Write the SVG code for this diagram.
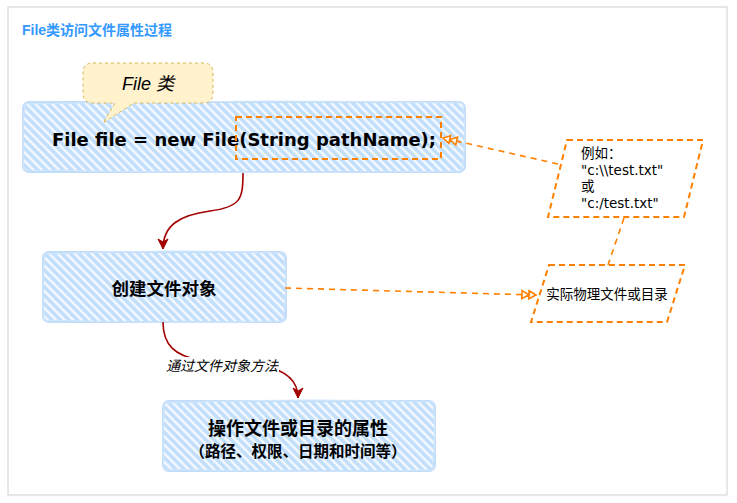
<svg xmlns="http://www.w3.org/2000/svg" width="737" height="503" viewBox="0 0 737 503">
<defs>
<style>
.hn{fill:url(#hatch);stroke:#c2ddf9;stroke-width:2}
.hn2{fill:none;stroke:#d0e6fc;stroke-width:1.2}
.t{font-family:"DejaVu Sans","Noto Sans CJK SC",sans-serif;fill:#000}
.cj{font-family:"DejaVu Sans","Noto Sans CJK SC",sans-serif;font-weight:bold;fill:#000}
.or{fill:none;stroke:#ff8000;stroke-width:2;stroke-dasharray:6 4}
.ol{fill:none;stroke:#ff8000;stroke-width:1.6;stroke-dasharray:6 5}
.rd{fill:none;stroke:#a30000;stroke-width:1.6}
</style>
<pattern id="hatch" patternUnits="userSpaceOnUse" width="6" height="6" patternTransform="rotate(-45)">
<rect width="6" height="6" fill="#ffffff"/>
<line x1="2.5" y1="-1" x2="2.5" y2="7" stroke="#c1defb" stroke-width="4"/>
</pattern>
<marker id="dbl" markerUnits="userSpaceOnUse" markerWidth="20" markerHeight="12" refX="15" refY="5" orient="auto" overflow="visible">
<path d="M1,1 L8,5 L1,9 Z M8,1 L15,5 L8,9 Z" fill="#ffffff" stroke="#ff8000" stroke-width="1.6" stroke-linejoin="miter"/>
</marker>
<marker id="cls" markerUnits="userSpaceOnUse" markerWidth="14" markerHeight="12" refX="10" refY="5" orient="auto" overflow="visible">
<path d="M0,0 L10,5 L0,10 L3,5 Z" fill="#a30000" stroke="#a30000" stroke-width="1"/>
</marker>
</defs>

<rect x="8" y="7" width="719" height="488" fill="#ffffff" stroke="#d0d0d0" stroke-width="1"/>
<text x="22" y="35" font-family="'Liberation Sans','Noto Sans CJK SC',sans-serif" font-size="14" font-weight="bold" fill="#3399ff">File类访问文件属性过程</text>

<g id="node-file">
<rect class="hn" x="23" y="102" width="442" height="70" rx="6"/>
<path class="hn2" d="M25,104 Q240,99 463,103 Q467,137 462,171 Q240,174 24,170 Q21,136 25,104 Z"/>
<text class="t" x="244" y="146" text-anchor="middle" font-size="18" font-weight="bold">File file = new File(String pathName);</text>
</g>

<g id="node-param-box">
<rect class="or" x="236" y="117" width="205" height="42"/>
</g>

<g id="callout-file">
<path d="M93,63 H203 Q213,63 213,73 V93 Q213,103 203,103 H134 L103,123 L115,103 H93 Q83,103 83,93 V73 Q83,63 93,63 Z" fill="#fff2cc" stroke="#d6b656" stroke-width="1" stroke-dasharray="3 3"/>
<text x="148" y="90" text-anchor="middle" font-family="'Liberation Sans','Noto Sans CJK SC',sans-serif" font-size="18" font-style="italic" fill="#000">File 类</text>
</g>

<g id="node-create">
<rect class="hn" x="43" y="252" width="243" height="70" rx="6"/>
<path class="hn2" d="M45,254 Q165,249 284,253 Q288,287 283,321 Q165,324 44,320 Q41,287 45,254 Z"/>
<text class="cj" x="164" y="295" text-anchor="middle" font-size="17.5">创建文件对象</text>
</g>

<g id="node-operate">
<rect class="hn" x="163" y="401" width="272" height="70" rx="6"/>
<path class="hn2" d="M165,403 Q298,398 433,402 Q437,436 432,470 Q298,473 164,469 Q161,436 165,403 Z"/>
<text class="cj" x="298" y="435" text-anchor="middle" font-size="18">操作文件或目录的属性</text>
<text class="cj" x="298" y="457" text-anchor="middle" font-size="15.5">（路径、权限、日期和时间等）</text>
</g>

<g id="node-example">
<path class="or" d="M567,140 L703,140 L684,217 L548,217 Z"/>
<text class="t" font-size="13.5"><tspan x="581" y="158">例如：</tspan><tspan x="581" y="175">"c:\\test.txt"</tspan><tspan x="581" y="191">或</tspan><tspan x="581" y="208">"c:/test.txt"</tspan></text>
</g>

<g id="node-physical">
<path class="or" d="M549,265 L685,265 L667,322 L531,322 Z"/>
<text class="t" x="607" y="299" text-anchor="middle" font-size="13.5">实际物理文件或目录</text>
</g>

<g id="connectors">
<path class="rd" d="M243,173 C243,200 240,207 210,211 C180,215 163,225 163,249" marker-end="url(#cls)"/>
<path class="rd" d="M163,322 C163,345 175,356 200,360 L262,366 C286,370 298,381 298,398" marker-end="url(#cls)"/>
<rect x="165" y="357" width="114" height="18" fill="#ffffff"/>
<text x="222" y="371" text-anchor="middle" font-family="'DejaVu Sans','Noto Sans CJK SC',sans-serif" font-size="14" font-style="italic" fill="#000">通过文件对象方法</text>
<path class="ol" d="M558,164 L443,138" marker-end="url(#dbl)"/>
<path class="ol" d="M285,288 L536,295" marker-end="url(#dbl)"/>
<path class="ol" d="M624,218 L608,265"/>
</g>
</svg>
